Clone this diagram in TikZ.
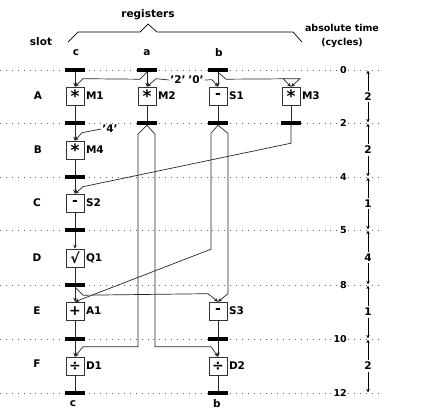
\documentclass[tikz,border=0pt]{standalone}
\usepackage{fontspec}
\setmainfont{DejaVu Sans}
\usetikzlibrary{arrows.meta,calc}
\begin{document}
\begin{tikzpicture}[x=1pt,y=-1pt,
  every node/.style={font=\bfseries\fontsize{10.5}{12}\selectfont, inner sep=1pt},
  opbox/.style={draw=black!80, line width=0.6pt, fill=white, minimum width=18pt, minimum height=18pt, inner sep=0pt, font=\bfseries\fontsize{14}{14}\selectfont},
  starbox/.style={opbox, font=\bfseries\fontsize{17}{17}\selectfont},
  regbar/.style={fill=black, minimum width=20pt, minimum height=4pt, inner sep=0pt},
  conn/.style={draw=black!85, line width=0.7pt},
  arr/.style={conn, -{Stealth[length=4pt,width=3.6pt]}},
  dotline/.style={draw=black!60, line width=0.8pt, dash pattern=on 0.9pt off 5pt},
  oplab/.style={anchor=west, inner sep=1.5pt},
  tlab/.style={anchor=east, fill=white, inner sep=1pt, font=\bfseries\fontsize{9.5}{11}\selectfont},
  axarr/.style={draw=black, line width=0.8pt, {Stealth[length=3.5pt,width=3.5pt]}-{Stealth[length=3.5pt,width=3.5pt]}, shorten <=0.6pt, shorten >=0.6pt},
  seglab/.style={fill=white, inner sep=2pt}
]
\useasboundingbox (0,0) rectangle (425,416);

% dotted time lines
\foreach \yy in {70,123,177,230,285,339,393}
  \draw[dotline] (0,\yy) -- (382,\yy);

% header
\node (slot) at (41,42) {slot};
\node (regs) at (148,15) {registers};
\node (abst) at (342,28) {\fontsize{9.5}{11}\selectfont absolute time};
\node (cyc) at (342,43) {\fontsize{9.5}{11}\selectfont (cycles)};
\draw[line width=0.7pt] (68,42) -- (78,32) -- (140,32) -- (148,24) -- (157,32) -- (293,32) -- (302,42);
\node (hc) at (76,53) {c};
\node (ha) at (147,53) {a};
\node (hb) at (219,53) {b};

% slot labels
\node (sA) at (38,96) {A};
\node (sB) at (38,150) {B};
\node (sC) at (37,203) {C};
\node (sD) at (37,258) {D};
\node (sE) at (37,311) {E};
\node (sF) at (37,364) {F};

% time labels
\node[tlab] (t0) at (348,70) {0};
\node[tlab] (t2) at (348,123) {2};
\node[tlab] (t4) at (348,177) {4};
\node[tlab] (t5) at (348,230) {5};
\node[tlab] (t8) at (348,285) {8};
\node[tlab] (t10) at (348,339) {10};
\node[tlab] (t12) at (348,393) {12};

% axis
\coordinate (y0) at (368,70);
\coordinate (y2) at (368,123);
\coordinate (y4) at (368,177);
\coordinate (y5) at (368,230);
\coordinate (y8) at (368,285);
\coordinate (y10) at (368,339);
\coordinate (y12) at (368,393);
\draw[axarr] (y0) -- node[seglab] (d1) {2} (y2);
\draw[axarr] (y2) -- node[seglab] (d2) {2} (y4);
\draw[axarr] (y4) -- node[seglab] (d3) {1} (y5);
\draw[axarr] (y5) -- node[seglab] (d4) {4} (y8);
\draw[axarr] (y8) -- node[seglab] (d5) {1} (y10);
\draw[axarr] (y10) -- node[seglab] (d6) {2} (y12);

% operation boxes
\node[starbox] (M1) at (75,96) {*};
\node[starbox] (M2) at (147,96) {*};
\node[opbox] (S1) at (218,96) {-};
\node[starbox] (M3) at (291,96) {*};
\node[starbox] (M4) at (75,150) {*};
\node[opbox] (S2) at (75,203) {-};
\node[opbox] (Q1) at (75,258) {√};
\node[opbox] (A1) at (75,311) {+};
\node[opbox] (S3) at (218,311) {-};
\node[opbox] (D1) at (75,366) {÷};
\node[opbox] (D2) at (218,366) {÷};

\node[oplab] (lM1) at (M1.east) {M1};
\node[oplab] (lM2) at (M2.east) {M2};
\node[oplab] (lS1) at (S1.east) {S1};
\node[oplab] (lM3) at (M3.east) {M3};
\node[oplab] (lM4) at (M4.east) {M4};
\node[oplab] (lS2) at (S2.east) {S2};
\node[oplab] (lQ1) at (Q1.east) {Q1};
\node[oplab] (lA1) at (A1.east) {A1};
\node[oplab] (lS3) at (S3.east) {S3};
\node[oplab] (lD1) at (D1.east) {D1};
\node[oplab] (lD2) at (D2.east) {D2};

% constants
\node (k2) at (178,80) {\char"0027 2\char"0027};
\node (k0) at (196,80) {\char"0027 0\char"0027};
\node (k4) at (110,129) {\char"0027 4\char"0027};

% register bars
\node[regbar] (c0) at (75,70) {};
\node[regbar] (a0) at (147,70) {};
\node[regbar] (b0) at (218,70) {};
\node[regbar] (c2) at (75,123) {};
\node[regbar] (a2) at (147,123) {};
\node[regbar] (b2) at (218,123) {};
\node[regbar] (m2) at (291,123) {};
\node[regbar] (c4) at (75,177) {};
\node[regbar] (c5) at (75,230) {};
\node[regbar] (c8) at (75,285) {};
\node[regbar] (c10) at (75,339) {};
\node[regbar] (b10) at (218,339) {};
\node[regbar] (c12) at (75,393) {};
\node[regbar] (b12) at (218,393) {};

% slot A inputs
\draw[arr] (c0.south) -- (M1.north);
\draw[arr] (a0.south) -- ++(-7,7) -- ($(M1.north)+(8,-8)$) -- (M1.north);
\draw[arr] (a0.south) -- (M2.north);
\draw[arr] (k2.west) -- ($(M2.north)+(9,-8)$) -- (M2.north);
\draw[arr] (b0.south) -- (S1.north);
\draw[arr] (k0.east) -- ($(S1.north)+(-6,-7)$) -- (S1.north);
\draw[arr] (b0.south) -- ++(8,7) -- ($(M3.north)+(9,-8)$) -- (M3.north);
\draw[arr] ($(M3.north)+(-8,-8)$) -- (M3.north);

% slot A outputs
\draw[conn] (M1.south) -- (c2.north);
\draw[conn] (M2.south) -- (a2.north);
\draw[conn] (S1.south) -- (b2.north);
\draw[conn] (M3.south) -- (m2.north);

% slot B
\draw[arr] (c2.south) -- (M4.north);
\draw[arr] (k4.west) -- ($(M4.north)+(7,-8)$) -- (M4.north);
\draw[conn] (M4.south) -- (c4.north);

% slot C
\draw[arr] (c4.south) -- (S2.north);
\draw[arr] (m2.south) -- ++(0,18) -- ($(S2.north)+(8,-7)$) -- (S2.north);
\draw[conn] (S2.south) -- (c5.north);

% slot D
\draw[arr] (c5.south) -- (Q1.north);
\draw[conn] (Q1.south) -- (c8.north);

% slot E
\draw[arr] (c8.south) -- (A1.north);
\draw[arr] (b2.south) -- ++(-7,8) -- ++(0,116) -- (A1.north);
\draw[arr] (c8.south) -- ++(8,8) -- ($(S3.north)+(-10,-8)$) -- (S3.north);
\draw[arr] (b2.south) -- ++(10,8) -- ($(S3.north)+(10,-8)$) -- (S3.north);
\draw[conn] (A1.south) -- (c10.north);
\draw[conn] (S3.south) -- (b10.north);

% slot F
\draw[arr] (c10.south) -- (D1.north);
\draw[arr] (a2.south) -- ++(-9,9) |- ($(D1.north)+(8,-10)$) -- (D1.north);
\draw[arr] (b10.south) -- (D2.north);
\draw[arr] (a2.south) -- ++(8,9) |- ($(D2.north)+(-7,-10)$) -- (D2.north);
\draw[conn] (D1.south) -- (c12.north);
\draw[conn] (D2.south) -- (b12.north);

% bottom labels
\node (fc) at (73,404) {c};
\node (fb) at (217,404) {b};
\end{tikzpicture}
\end{document}
